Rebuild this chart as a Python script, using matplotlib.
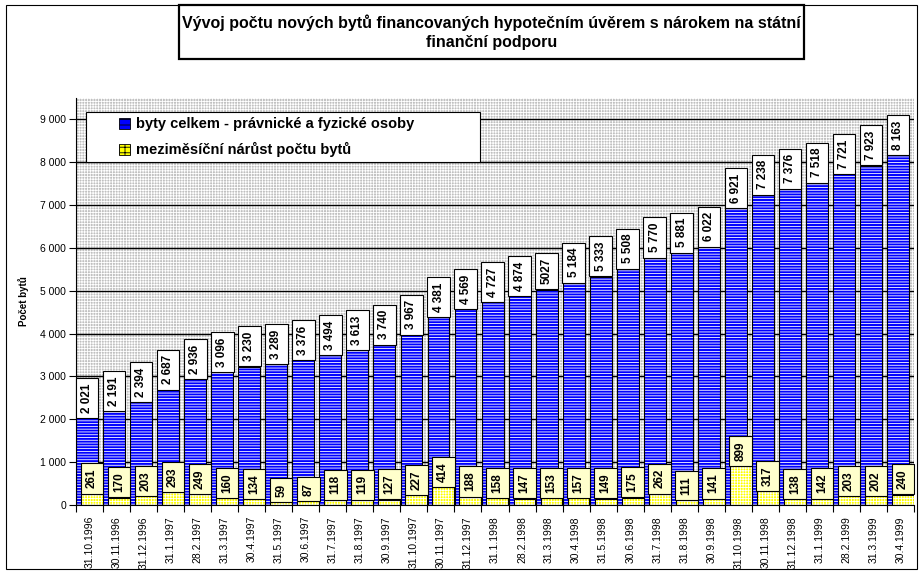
import numpy as np
import matplotlib
matplotlib.use("Agg")
import matplotlib.pyplot as plt
from matplotlib.patches import Rectangle, Patch

plt.rcParams["font.family"] = ["Liberation Sans", "DejaVu Sans"]
plt.rcParams["hatch.linewidth"] = 0.6

# data
dates = ["31.10.1996", "30.11.1996", "31.12.1996", "31.1.1997", "28.2.1997",
         "31.3.1997", "30.4.1997", "31.5.1997", "30.6.1997", "31.7.1997",
         "31.8.1997", "30.9.1997", "31.10.1997", "30.11.1997", "31.12.1997",
         "31.1.1998", "28.2.1998", "31.3.1998", "30.4.1998", "31.5.1998",
         "30.6.1998", "31.7.1998", "31.8.1998", "30.9.1998", "31.10.1998",
         "30.11.1998", "31.12.1998", "31.1.1999", "28.2.1999", "31.3.1999",
         "30.4.1999"]
totals = [2021, 2191, 2394, 2687, 2936, 3096, 3230, 3289, 3376, 3494,
          3613, 3740, 3967, 4381, 4569, 4727, 4874, 5027, 5184, 5333,
          5508, 5770, 5881, 6022, 6921, 7238, 7376, 7518, 7721, 7923, 8163]
increase = [261, 170, 203, 293, 249, 160, 134, 59, 87, 118, 119, 127, 227,
            414, 188, 158, 147, 153, 157, 149, 175, 262, 111, 141, 899, 317,
            138, 142, 203, 202, 240]
total_labels = ["2 021", "2 191", "2 394", "2 687", "2 936", "3 096", "3 230",
                "3 289", "3 376", "3 494", "3 613", "3 740", "3 967", "4 381",
                "4 569", "4 727", "4 874", "5027", "5 184", "5 333", "5 508",
                "5 770", "5 881", "6 022", "6 921", "7 238", "7 376", "7 518",
                "7 721", "7 923", "8 163"]
series_names = ["byty celkem - právnické a fyzické osoby",
                "meziměsíční nárůst počtu bytů"]
title = ("Vývoj počtu nových bytů financovaných hypotečním úvěrem s nárokem na státní\n"
         "finanční podporu")

W, H = 924, 575
fig = plt.figure(figsize=(W / 100, H / 100), dpi=100)
ax = fig.add_axes([76 / W, (H - 505) / H, (914 - 76) / W, (505 - 98) / H])

x = np.arange(len(dates))
bw = 0.81
off = 0.09

# plot area background: grey with fine white grid
ax.add_patch(Rectangle((0, 0), 1, 1, transform=ax.transAxes, facecolor="#c0c0c0",
                       hatch="++++++", edgecolor="white", linewidth=0, zorder=0.1))

# bars: fill+hatch first, then black outlines
ax.bar(x - off, totals, bw, color="#0000ff", hatch="------", edgecolor="white",
       linewidth=0, zorder=1)
ax.bar(x - off, totals, bw, fill=False, edgecolor="black", linewidth=0.8, zorder=1.1)
ax.bar(x + off, increase, bw, color="#ffff00", hatch="++++++", edgecolor="white",
       linewidth=0, zorder=2)
ax.bar(x + off, increase, bw, fill=False, edgecolor="black", linewidth=0.8, zorder=2.1)

# data labels
for i in range(len(x)):
    ax.annotate(total_labels[i], (x[i] - off, totals[i]), xytext=(0, 4),
                textcoords="offset points", rotation=90, ha="center", va="bottom",
                fontsize=8.5, fontweight="bold", zorder=3,
                bbox=dict(boxstyle="square,pad=0.45", fc="white", ec="black", lw=0.8))
    ax.annotate(str(increase[i]), (x[i] + off, increase[i]), xytext=(0, 4),
                textcoords="offset points", rotation=90, ha="center", va="bottom",
                fontsize=8.5, fontweight="bold", zorder=4,
                bbox=dict(boxstyle="square,pad=0.45", fc="#ffffcc", ec="black", lw=0.8))

ax.set_xlim(-0.5, len(x) - 0.5)
ax.set_ylim(0, 9500)
ax.set_yticks(range(0, 9001, 1000))
ax.set_yticklabels([f"{v:,}".replace(",", " ") for v in range(0, 9001, 1000)], fontsize=7.5)
ax.set_xticks(x)
ax.set_xticklabels(dates, rotation=90, fontsize=7.5, va="top")
ax.set_xticks(np.arange(-0.5, len(x)), minor=True)
ax.tick_params(axis="x", which="major", length=0, pad=8)
ax.tick_params(axis="x", which="minor", length=5, width=0.8)
ax.tick_params(axis="y", length=5, width=0.8, pad=2)
ax.set_axisbelow(True)
ax.grid(axis="y", color="black", linewidth=1)
for s in ["top", "right"]:
    ax.spines[s].set_visible(False)
ax.spines["left"].set_linewidth(0.8)
ax.spines["bottom"].set_linewidth(0.8)
ax.set_ylabel("Počet bytů", fontsize=7, fontweight="bold", labelpad=8)

# legend with white box
ax.add_patch(Rectangle(((86 - 76) / 838, 1 - (162 - 98) / 407), (480 - 86) / 838, 50 / 407,
                       transform=ax.transAxes, facecolor="white", edgecolor="black",
                       linewidth=0.8, zorder=5))
handles = [Patch(facecolor="#0000ff", hatch="---", edgecolor="black", linewidth=0.6),
           Patch(facecolor="#ffff00", hatch="+++", edgecolor="black", linewidth=0.6)]
leg = ax.legend(handles, series_names, loc="upper left",
                bbox_to_anchor=((115 - 76) / 838, 1 - (113 - 98) / 407),
                frameon=False, handlelength=0.75, handleheight=0.75,
                handletextpad=0.4, labelspacing=0.75, borderaxespad=0, borderpad=0.3,
                prop={"weight": "bold", "size": 10.5})
leg.set_zorder(6)

# title box
fig.add_artist(Rectangle((179 / W, 1 - 59 / H), (804 - 179) / W, 54 / H,
                         transform=fig.transFigure, facecolor="white", edgecolor="black",
                         linewidth=1.6))
fig.text(491.5 / W, 1 - 32 / H, title, ha="center", va="center", fontsize=11.5,
         fontweight="bold", linespacing=1.3)

# outer chart border
fig.add_artist(Rectangle((6 / W, 1 - 569 / H), (917 - 6) / W, (569 - 5) / H,
                         transform=fig.transFigure, fill=False, edgecolor="black",
                         linewidth=0.8, zorder=0))

fig.savefig("out.png", dpi=100)
